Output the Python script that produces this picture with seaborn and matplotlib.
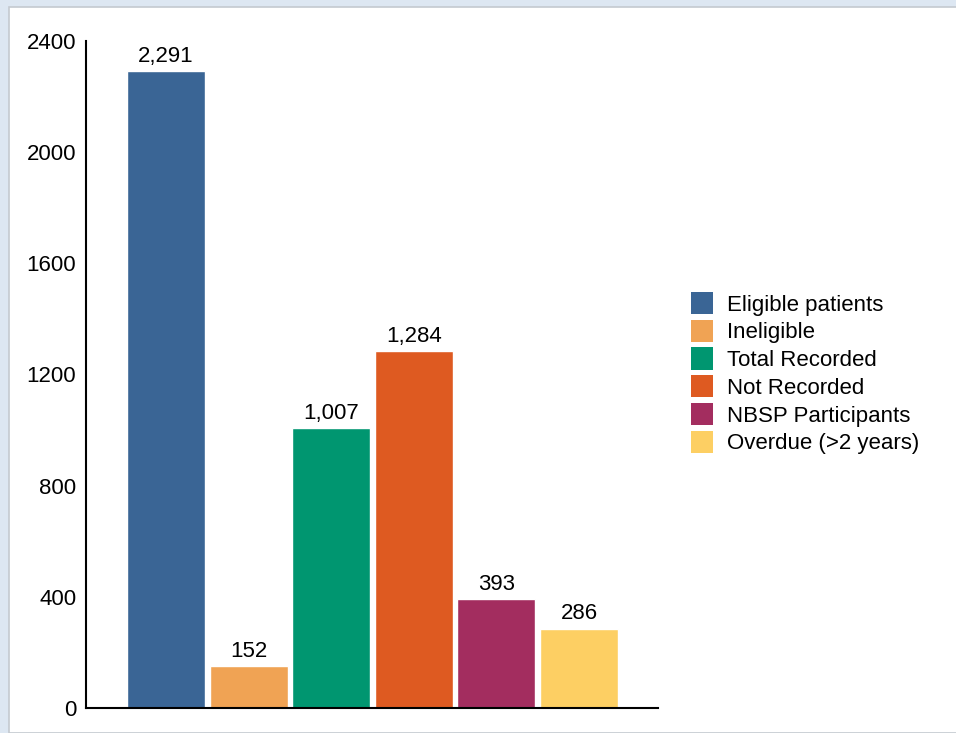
import matplotlib
matplotlib.use("Agg")
import matplotlib.pyplot as plt
from matplotlib.patches import Rectangle, Patch
import seaborn as sns
import pandas as pd

categories = ["Eligible patients", "Ineligible", "Total Recorded",
              "Not Recorded", "NBSP Participants", "Overdue (>2 years)"]
values = [2291, 152, 1007, 1284, 393, 286]
colors = ["#3a6595", "#f0a354", "#009670", "#de5a21", "#a32d5f", "#fdcf63"]
yticks = [0, 400, 800, 1200, 1600, 2000, 2400]

sns.set_theme(style="white")
plt.rcParams["font.family"] = ["Liberation Sans", "DejaVu Sans"]
plt.rcParams["text.color"] = "black"
plt.rcParams["ytick.color"] = "black"
plt.rcParams["ytick.labelcolor"] = "black"

df = pd.DataFrame({"category": categories, "value": values})

fig = plt.figure(figsize=(9.56, 7.33), dpi=100)
fig.patch.set_facecolor("#dde7f2")
# white panel with a thin grey edge
fig.patches.append(Rectangle((9 / 956, 0), 1, (733 - 7) / 733,
                             transform=fig.transFigure, facecolor="white",
                             edgecolor="#c4c9d0", linewidth=1.2, zorder=-1))

ax = fig.add_axes([86 / 956, 25 / 733, (658 - 86) / 956, (708 - 41) / 733])
ax.set_facecolor("none")

sns.barplot(data=df, x="category", y="value", hue="category",
            palette=colors, dodge=False, width=0.945, saturation=1,
            legend=False, ax=ax)

for container in ax.containers:
    ax.bar_label(container, labels=[f"{v:,.0f}" for v in container.datavalues],
                 padding=3, fontsize=16, color="black")

ax.set_xlim(-0.97, 5.956)
ax.set_ylim(0, 2400)
ax.set_yticks(yticks)
ax.set_yticklabels([str(t) for t in yticks], fontsize=16, color="black")
ax.set_xticks([])
ax.set_xlabel("")
ax.set_ylabel("")
ax.tick_params(axis="y", length=0, pad=7)
for side in ["top", "right"]:
    ax.spines[side].set_visible(False)
for side in ["left", "bottom"]:
    ax.spines[side].set_color("black")
    ax.spines[side].set_linewidth(1.5)

handles = [Patch(facecolor=c, edgecolor="none") for c in colors]
fig.legend(handles, categories, loc="upper left",
           bbox_to_anchor=(691 / 956, 1 - 292 / 733), frameon=False,
           fontsize=16, handlelength=1.0, handleheight=1.16,
           handletextpad=0.62, labelspacing=0.185, borderaxespad=0,
           borderpad=0, labelcolor="black")

fig.savefig("out.png", dpi=100, facecolor=fig.get_facecolor())
